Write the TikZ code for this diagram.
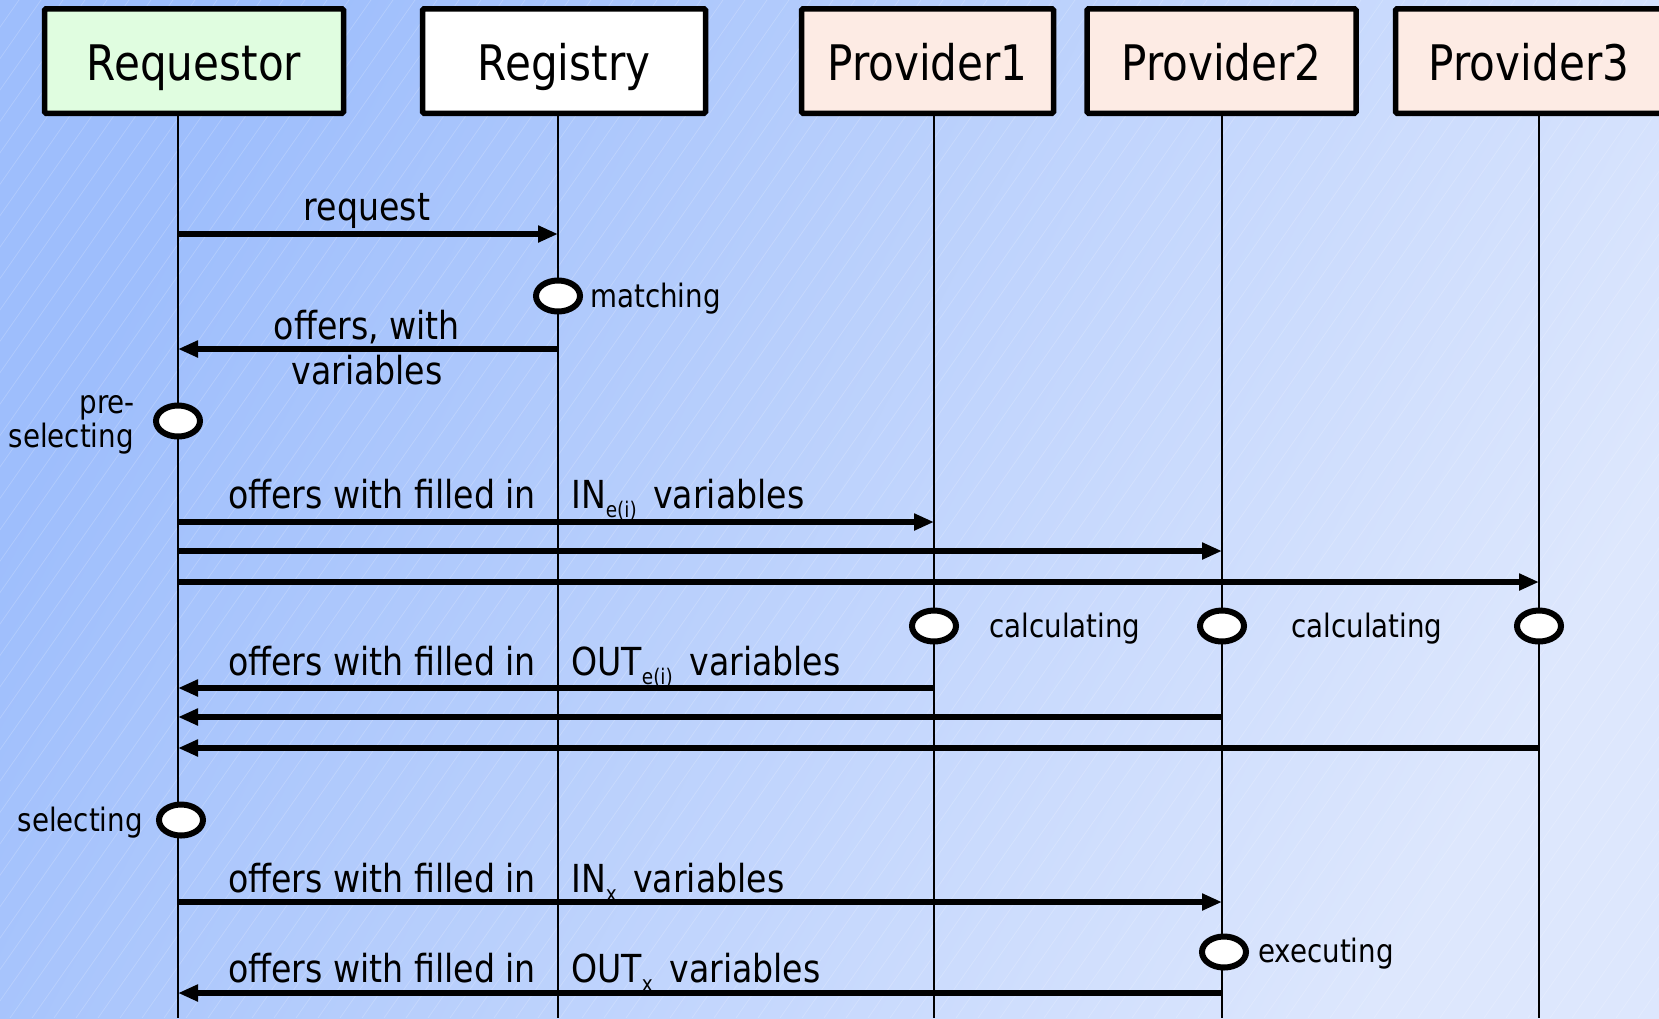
\documentclass[tikz,border=0pt]{standalone}
\usepackage{fontspec}
\setmainfont{DejaVu Sans}[FakeStretch=0.86]
\usetikzlibrary{arrows.meta,shapes.geometric}

\definecolor{bgdark}{RGB}{158,190,252}
\definecolor{bglight}{RGB}{221,231,253}
\definecolor{reqfill}{RGB}{224,253,224}
\definecolor{provfill}{RGB}{253,235,228}

% lowered small index after IN / OUT
\newcommand\lowidx[1]{\raisebox{-9pt}{\fontsize{21.5}{21.5}\selectfont #1}\hspace{6pt}}

\begin{document}
\begin{tikzpicture}[x=1pt,y=-1pt,
  head/.style={draw=black,line width=5.5pt,rounded corners=1.5pt,
    minimum height=104.5pt,inner sep=0pt,text height=38pt,text depth=0pt,
    font=\fontsize{49}{49}\selectfont},
  lifeline/.style={line width=2.8pt},
  msg/.style={line width=5.2pt,-{Triangle[length=20pt,width=16pt]}},
  act/.style={ellipse,draw=black,fill=white,line width=6pt,
    minimum width=44pt,minimum height=31pt,inner sep=0pt},
  lbl/.style={inner sep=0pt,font=\fontsize{38.6}{38.6}\selectfont},
  note/.style={inner sep=0pt,font=\fontsize{32.2}{32.2}\selectfont},
  stripe/.style={white,opacity=0.2,line width=0.7pt}]

% page and background
\useasboundingbox (0,0) rectangle (1659,1018);
\clip (0,0) rectangle (1659,1018);
\shade[top color=bgdark,bottom color=bglight,shading angle=62]
  (0,0) rectangle (1659,1018);
\foreach \i in {-760,-738,...,1660}
  \draw[stripe] (\i,1018) -- ++(713,-1018);

% lifeline tops and bottoms
\coordinate (lR) at (178,116);
\coordinate (lG) at (558,116);
\coordinate (l1) at (934,116);
\coordinate (l2) at (1222,116);
\coordinate (l3) at (1539,116);
\coordinate (bottom) at (0,1018);
\foreach \l in {lR,lG,l1,l2,l3}
  \draw[lifeline] (\l) -- (\l |- bottom);

% participants
\node[head,fill=reqfill,minimum width=299pt] (req) at (194,61) {Requestor};
\node[head,fill=white,minimum width=283pt] (reg) at (564,61) {Registry};
\node[head,fill=provfill,minimum width=252pt] (p1) at (927.5,61) {Provider1};
\node[head,fill=provfill,minimum width=269pt] (p2) at (1221.5,61) {Provider2};
\node[head,fill=provfill,minimum width=267pt] (p3) at (1529,61) {Provider3};

% rows of the messages
\coordinate (r1) at (0,234);
\coordinate (r2) at (0,349);
\coordinate (r3) at (0,522);
\coordinate (r4) at (0,551);
\coordinate (r5) at (0,582);
\coordinate (r6) at (0,688);
\coordinate (r7) at (0,717);
\coordinate (r8) at (0,748);
\coordinate (r9) at (0,902);
\coordinate (r10) at (0,993);

% rows of the activities
\coordinate (a1) at (0,296);
\coordinate (a2) at (0,421);
\coordinate (a3) at (0,626);
\coordinate (a4) at (0,820);
\coordinate (a5) at (0,952);

% messages
\draw[msg] (lR |- r1) -- (lG |- r1);
\draw[msg] (lG |- r2) -- (lR |- r2);
\draw[msg] (lR |- r3) -- (l1 |- r3);
\draw[msg] (lR |- r4) -- (l2 |- r4);
\draw[msg] (lR |- r5) -- (l3 |- r5);
\draw[msg] (l1 |- r6) -- (lR |- r6);
\draw[msg] (l2 |- r7) -- (lR |- r7);
\draw[msg] (l3 |- r8) -- (lR |- r8);
\draw[msg] (lR |- r9) -- (l2 |- r9);
\draw[msg] (l2 |- r10) -- (lR |- r10);

% activities
\node[act] (match) at (lG |- a1) {};
\node[act] (presel) at (lR |- a2) {};
\node[act] (calc1) at (l1 |- a3) {};
\node[act] (calc2) at (l2 |- a3) {};
\node[act] (calc3) at (l3 |- a3) {};
\node[act] (sel) at ([xshift=3pt]lR |- a4) {};
\node[act] (exec) at ([xshift=2pt]l2 |- a5) {};

% activity notes
\node[note,anchor=base west] (tmatch) at (590,307) {matching};
\node[note,anchor=base east] (tpre1) at (135,413) {pre-};
\node[note,anchor=base east] (tpre2) at (134,447) {selecting};
\node[note,anchor=base] (tcalc1) at (1065,637) {calculating};
\node[note,anchor=base] (tcalc2) at (1367,637) {calculating};
\node[note,anchor=base east] (tsel) at (143,831) {selecting};
\node[note,anchor=base west] (texec) at (1258,962) {executing};

% message labels
\node[lbl,anchor=base] (treq) at (367,220) {request};
\node[lbl,anchor=base] (toff1) at (367,339) {offers, with};
\node[lbl,anchor=base] (toff2) at (367,384) {variables};

\node[lbl,anchor=base west] (tin1) at (228,508) {offers with filled in};
\node[lbl,anchor=base west] (tin2) at (571,508) {IN\lowidx{e(i)} variables};

\node[lbl,anchor=base west] (tout1) at (228,675) {offers with filled in};
\node[lbl,anchor=base west] (tout2) at (571,675) {OUT\lowidx{e(i)} variables};

\node[lbl,anchor=base west] (tinx1) at (228,892) {offers with filled in};
\node[lbl,anchor=base west] (tinx2) at (571,892) {IN\lowidx{x} variables};

\node[lbl,anchor=base west] (toutx1) at (228,982) {offers with filled in};
\node[lbl,anchor=base west] (toutx2) at (571,982) {OUT\lowidx{x} variables};
\end{tikzpicture}
\end{document}
